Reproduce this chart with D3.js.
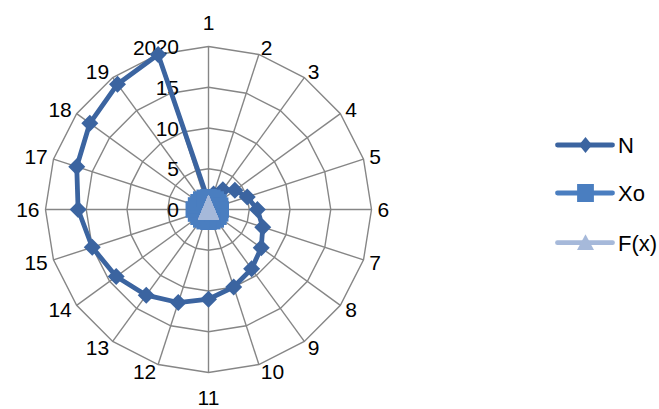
<!DOCTYPE html>
<html>
<head>
<meta charset="utf-8">
<script src="https://cdn.jsdelivr.net/npm/d3@7"></script>
<style>
html,body{margin:0;padding:0;background:#fff;}
svg{display:block;}
text{font-family:"Liberation Sans",Arial,sans-serif;fill:#000;}
</style>
</head>
<body>
<svg id="chart" width="659" height="409"></svg>
<script>
const categories = ["1","2","3","4","5","6","7","8","9","10","11","12","13","14","15","16","17","18","19","20"];
const seriesN  = [1,2,3,4,5,6,7,8,9,10,11,12,13,14,15,16,17,18,19,20];
const seriesXo = [1.5,1.5,1.5,1.5,1.5,1.5,1.5,1.5,1.5,1.5,1.5,1.5,1.5,1.5,1.6,1.8,1.6,1.5,1.5,1.5];
const seriesFx = [0,0,0,0,0,0,0,0,0,0,0,0,0,0,0,0,0,0,0,0];
const radialTicks = [0,5,10,15,20];
const seriesNames = ["N","Xo","F(x)"];

const W = 659, H = 409;
const cx = 208.5, cy = 209.5, R = 163;
const gridColor = "#868686";
const colors = {N:"#3B64A0", Xo:"#4A7EC0", Fx:"#A6B9DA"};

const svg = d3.select("#chart");
const g = svg.append("g").attr("transform", `translate(${cx},${cy})`);

const r = d3.scaleLinear().domain([0,20]).range([0,R]);
const ang = d3.scaleLinear().domain([0, categories.length]).range([0, 2*Math.PI]);
const px = (i,v) => r(v)*Math.sin(ang(i));
const py = (i,v) => -r(v)*Math.cos(ang(i));

// grid rings
radialTicks.filter(t => t>0).forEach(t => {
  g.append("path")
    .attr("d", d3.line().x(d=>px(d,t)).y(d=>py(d,t)).curve(d3.curveLinearClosed)(d3.range(categories.length)))
    .attr("fill","none").attr("stroke",gridColor).attr("stroke-width",1.4);
});
// spokes
g.selectAll("line.spoke").data(categories).enter().append("line")
  .attr("x1",0).attr("y1",0)
  .attr("x2",(d,i)=>px(i,20)).attr("y2",(d,i)=>py(i,20))
  .attr("stroke",gridColor).attr("stroke-width",1.4);

// category labels
const fs = 21, lfs = 22;
const labels = g.selectAll("text.cat").data(categories).enter().append("text")
  .attr("class","cat").style("font-size",fs+"px").text(d=>d);
labels.each(function(d,i){
  const a = ang(i), s = Math.sin(a), c = Math.cos(a);
  const w = this.getComputedTextLength();
  const vx = px(i,20), vy = py(i,20);
  let x, y;
  if (Math.abs(s) < 0.01) { x = vx; y = vy - c*24.5; }
  else { x = vx + Math.sign(s)*(6*Math.abs(s) + w/2); y = vy - c*7.2; }
  d3.select(this).attr("x",x).attr("y",y + 0.358*fs).attr("text-anchor","middle");
});

// radial tick labels
g.selectAll("text.tick").data(radialTicks).enter().append("text")
  .attr("class","tick").style("font-size",fs+"px")
  .attr("x",-29.5).attr("y",d=>-r(d)+0.358*fs)
  .attr("text-anchor","end").text(d=>d);

// marker shapes
const diamond = (sx, sy) => `M0,${-sy}L${sx},0L0,${sy}L${-sx},0Z`;
const square = (sx, sy) => `M${-sx},${-sy}H${sx}V${sy}H${-sx}Z`;
const triangle = (hw, top, bot) => `M0,${-top}L${hw},${bot}L${-hw},${bot}Z`;

function drawSeries(vals, color, markerPath){
  g.append("path")
    .attr("d", d3.line().x((d,i)=>px(i,d)).y((d,i)=>py(i,d)).curve(d3.curveLinearClosed)(vals))
    .attr("fill","none").attr("stroke",color).attr("stroke-width",4.8).attr("stroke-linejoin","round");
  g.append("g").selectAll("path").data(vals).enter().append("path")
    .attr("d", markerPath)
    .attr("transform",(d,i)=>`translate(${px(i,d)},${py(i,d)})`)
    .attr("fill",color);
}
drawSeries(seriesN, colors.N, diamond(8.5, 8.5));
drawSeries(seriesXo, colors.Xo, square(8.3, 8.3));
drawSeries(seriesFx, colors.Fx, triangle(10.5, 14.5, 10.5));

// legend
const legend = svg.append("g");
const legY = [145, 193, 242.7];
const legColors = [colors.N, colors.Xo, colors.Fx];
const legMarkers = [diamond(6.5, 8), square(8.4, 9), triangle(8.5, 8.4, 7.3)];
seriesNames.forEach((name,k) => {
  const row = legend.append("g").attr("transform",`translate(0,${legY[k]})`);
  row.append("line").attr("x1",557.5).attr("x2",612.5).attr("y1",0).attr("y2",0)
    .attr("stroke",legColors[k]).attr("stroke-width",4.8).attr("stroke-linecap","round");
  row.append("path").attr("d",legMarkers[k]).attr("transform","translate(585.5,0)").attr("fill",legColors[k]);
  row.append("text").attr("x",618).attr("y",0.358*lfs).style("font-size",lfs+"px").text(name);
});
</script>
</body>
</html>
